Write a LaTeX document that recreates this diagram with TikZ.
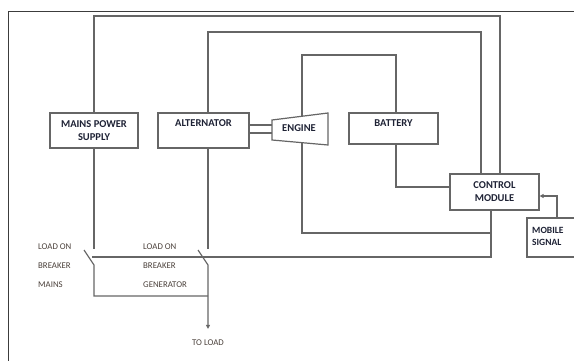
\documentclass[tikz,border=0pt]{standalone}
\usepackage{fontspec}
\setmainfont{Carlito}
\usepackage{tikz}
\usetikzlibrary{arrows.meta}
\definecolor{wire}{HTML}{666666}
\definecolor{ink}{HTML}{1E2235}
\definecolor{muted}{HTML}{4A403A}
\definecolor{frame}{HTML}{3C3C3C}

\begin{document}
\begin{tikzpicture}[x=1pt,y=-1pt,
    box/.style={draw=wire, line width=1.2pt, fill=white, inner sep=0pt, align=center,
      text=ink, font=\fontsize{10.5}{13}\selectfont\bfseries},
    lbl/.style={text=ink, font=\fontsize{10.5}{12}\selectfont\bfseries, inner sep=0pt},
    brk/.style={text=muted, font=\fontsize{8.8}{10}\selectfont, anchor=west, inner sep=0pt},
    wire/.style={draw=wire, line width=1.2pt},
    tip/.style={-{Triangle[length=4pt,width=4pt]}}]
  \useasboundingbox (0,0) rectangle (574,361);
  \clip (0,0) rectangle (574,361);
  \draw[frame, line width=0.8pt] (8.5,361) -- (8.5,11) -- (574,11);

  % blocks
  \node[box, minimum width=88pt, minimum height=35pt] (mains) at (94,130.5) {MAINS POWER\\SUPPLY};
  \node[box, minimum width=91pt, minimum height=35pt] (alt) at (203.5,130.5) {};
  \node[lbl] (altlbl) at (203.5,123) {ALTERNATOR};
  \node[box, minimum width=89pt, minimum height=31pt] (bat) at (393.5,128.5) {};
  \node[lbl] (batlbl) at (393.5,123) {BATTERY};
  \node[box, minimum width=89pt, minimum height=36pt] (ctrl) at (494.5,192) {CONTROL\\MODULE};
  \node[box, minimum width=63pt, minimum height=39pt] (mob) at (558.5,237.5) {};
  \node[lbl, anchor=west, align=left, font=\fontsize{9.5}{12}\selectfont\bfseries] (moblbl) at (532,236) {MOBILE\\SIGNAL};

  % engine
  \coordinate (e1) at (272,120);
  \coordinate (e2) at (328,113);
  \coordinate (e3) at (328,145);
  \coordinate (e4) at (272,140);
  \draw[wire, fill=white] (e1) -- (e2) -- (e3) -- (e4) -- cycle;
  \node[lbl] (eng) at (299,128) {ENGINE};
  \coordinate (engT) at (302,116.3);
  \coordinate (engB) at (302,142.7);
  \coordinate (shaftA) at (272,125);
  \coordinate (shaftB) at (272,133);
  \draw[wire] (alt.east |- shaftA) -- (shaftA);
  \draw[wire] (alt.east |- shaftB) -- (shaftB);

  % control loops
  \coordinate (topA) at (500,16);
  \coordinate (topB) at (481,32);
  \coordinate (topC) at (302,55);
  \draw[wire] (mains.north) |- (topA) -- (topA |- ctrl.north);
  \draw[wire] ([xshift=4.5pt]alt.north) |- (topB) -- (topB |- ctrl.north);
  \draw[wire] (engT) |- (topC) -| ([xshift=2.5pt]bat.north);
  \draw[wire] ([xshift=2.5pt]bat.south) |- ([yshift=5pt]ctrl.west);
  \coordinate (jn) at (491,233);
  \coordinate (bus) at (491,257);
  \coordinate (busL) at (91.5,257);
  \draw[wire] (engB) |- (jn);
  \draw[wire] ([xshift=-3.5pt]ctrl.south) -- (bus) -- (busL);
  \draw[wire, tip] ([xshift=-1.5pt]mob.north) |- ([yshift=-4pt]ctrl.east);

  % breakers
  \coordinate (mA) at (94,249);
  \coordinate (mD) at (84,250);
  \coordinate (mB) at (94,265);
  \coordinate (gA) at (208,249);
  \coordinate (gD) at (198,250);
  \coordinate (gB) at (208,265);
  \coordinate (gC) at (208,296);
  \node[brk, anchor=center] (load) at (208,343) {TO LOAD};
  \draw[wire] (mains.south) -- (mA);
  \draw[wire] ([xshift=4.5pt]alt.south) -- (gA);
  \draw[wire] (mD) -- (mB) |- (gC);
  \draw[wire, tip] (gD) -- (gB) -- ([yshift=11pt]load.north);

  \node[brk] (lm1) at (38,247) {LOAD ON};
  \node[brk] (lm2) at (38,266) {BREAKER};
  \node[brk] (lm3) at (38,285) {MAINS};
  \node[brk] (lg1) at (143,247) {LOAD ON};
  \node[brk] (lg2) at (143,266) {BREAKER};
  \node[brk] (lg3) at (143,285) {GENERATOR};
\end{tikzpicture}
\end{document}
